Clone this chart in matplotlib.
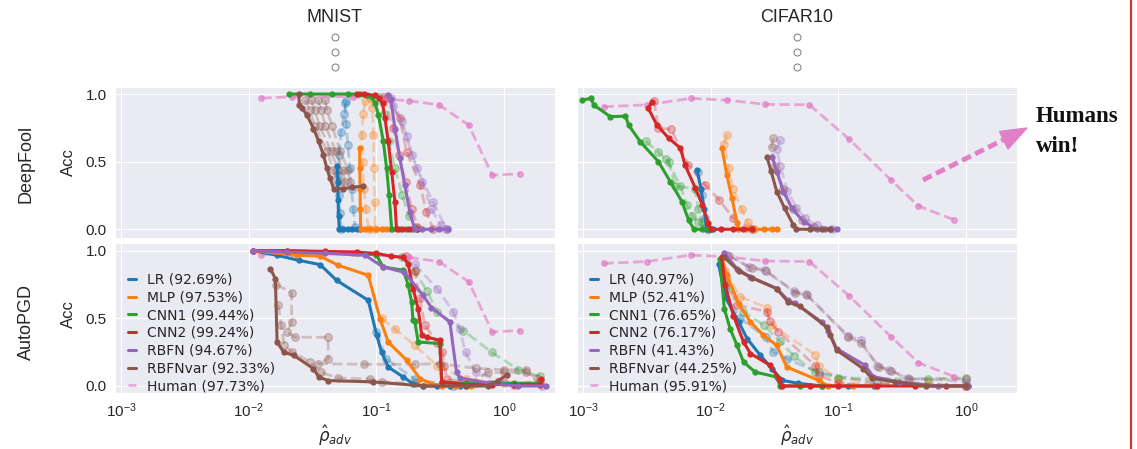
import matplotlib
matplotlib.use("Agg")
import matplotlib.pyplot as plt
import seaborn as sns
from matplotlib.lines import Line2D
from matplotlib.patches import Polygon

sns.set_style("darkgrid")
plt.rcParams["font.family"] = ["Liberation Sans", "DejaVu Sans"]

models = ["LR", "MLP", "CNN1", "CNN2", "RBFN", "RBFNvar"]
colors = ["C0", "C1", "C2", "C3", "C4", "C5"]
human_color = "C6"
mnist_clean = [92.69, 97.53, 99.44, 99.24, 94.67, 92.33, 97.73]
cifar_clean = [40.97, 52.41, 76.65, 76.17, 41.43, 44.25, 95.91]

# human curves (same in both attack rows)
human_mnist_x = [0.0126, 0.022, 0.066, 0.18, 0.31, 0.53, 0.81, 1.34]
human_mnist_y = [0.97, 0.98, 0.98, 0.95, 0.92, 0.77, 0.40, 0.41]
human_cifar_x = [0.00145, 0.00317, 0.0070, 0.0134, 0.0267, 0.0594, 0.122, 0.259, 0.424, 0.81]
human_cifar_y = [0.906, 0.92, 0.968, 0.955, 0.924, 0.92, 0.665, 0.364, 0.172, 0.069]

# main run per model: (rho, acc)
mnist_deepfool = {
    "LR": ([0.0496, 0.0499, 0.0502, 0.0506, 0.0514, 0.055, 0.060, 0.065, 0.070, 0.075],
           [0.47, 0.35, 0.22, 0.10, 0.0, 0.0, 0.0, 0.0, 0.0, 0.0]),
    "MLP": ([0.0740, 0.0743, 0.0747, 0.0750, 0.0755, 0.082, 0.090, 0.100, 0.110, 0.120, 0.128],
            [0.60, 0.45, 0.30, 0.15, 0.0, 0.0, 0.0, 0.0, 0.0, 0.0, 0.0]),
    "CNN1": ([0.0208, 0.030, 0.045, 0.060, 0.075, 0.084, 0.092, 0.098, 0.104, 0.1135, 0.1205, 0.126, 0.132, 0.15, 0.17, 0.19, 0.207],
             [1.0, 1.0, 1.0, 1.0, 1.0, 0.99, 0.98, 0.93, 0.845, 0.65, 0.45, 0.25, 0.0, 0.0, 0.0, 0.0, 0.0]),
    "CNN2": ([0.0703, 0.080, 0.0975, 0.105, 0.112, 0.117, 0.124, 0.132, 0.140, 0.144, 0.16, 0.18, 0.207],
             [1.0, 1.0, 0.99, 0.97, 0.93, 0.82, 0.65, 0.425, 0.20, 0.0, 0.0, 0.0, 0.0]),
    "RBFN": ([0.124, 0.130, 0.140, 0.153, 0.167, 0.183, 0.200, 0.23, 0.27, 0.31, 0.365],
             [0.99, 0.96, 0.745, 0.525, 0.33, 0.13, 0.0, 0.0, 0.0, 0.0, 0.0]),
    "RBFNvar": ([0.0246, 0.025, 0.026, 0.0286, 0.0322, 0.0354, 0.0385, 0.041, 0.0434, 0.0463, 0.055, 0.065, 0.079],
                [1.0, 0.92, 0.90, 0.845, 0.745, 0.65, 0.55, 0.45, 0.377, 0.30, 0.30, 0.31, 0.32]),
}
cifar_deepfool = {
    "LR": ([0.00782, 0.0084, 0.0089, 0.0093, 0.0098, 0.0105],
           [0.438, 0.30, 0.15, 0.0, 0.0, 0.0]),
    "MLP": ([0.01226, 0.0134, 0.0147, 0.0161, 0.0165, 0.019, 0.022, 0.026, 0.030, 0.033],
            [0.60, 0.40, 0.23, 0.044, 0.0, 0.0, 0.0, 0.0, 0.0, 0.0]),
    "CNN1": ([0.000984, 0.00115, 0.00122, 0.00164, 0.00215, 0.00228, 0.00281, 0.0039, 0.00483, 0.00596, 0.00671, 0.0074, 0.0085, 0.0099],
             [0.955, 0.968, 0.918, 0.832, 0.837, 0.77, 0.647, 0.50, 0.352, 0.204, 0.069, 0.0, 0.0, 0.0]),
    "CNN2": ([0.00347, 0.00325, 0.0038, 0.0047, 0.0058, 0.0063, 0.0076, 0.0086, 0.0096, 0.0100, 0.012, 0.015, 0.018, 0.021],
             [0.943, 0.894, 0.77, 0.673, 0.60, 0.475, 0.303, 0.18, 0.044, 0.0, 0.0, 0.0, 0.0, 0.0]),
    "RBFN": ([0.0302, 0.0330, 0.0372, 0.0433, 0.0535, 0.068, 0.078, 0.088, 0.097],
             [0.537, 0.426, 0.278, 0.155, 0.056, 0.0, 0.0, 0.0, 0.0]),
    "RBFNvar": ([0.0276, 0.0297, 0.033, 0.038, 0.0445, 0.047, 0.060, 0.075, 0.0863],
                [0.537, 0.43, 0.278, 0.155, 0.03, 0.0, 0.0, 0.0, 0.0]),
}
mnist_autopgd = {
    "LR": ([0.0109, 0.0167, 0.0246, 0.0363, 0.049, 0.0866, 0.1007, 0.110, 0.124, 0.163, 0.194, 0.233, 0.30, 0.38, 0.45],
           [1.0, 0.966, 0.929, 0.897, 0.78, 0.633, 0.375, 0.251, 0.14, 0.066, 0.017, 0.0, 0.0, 0.0, 0.0]),
    "MLP": ([0.0109, 0.0238, 0.0363, 0.0505, 0.0866, 0.107, 0.124, 0.173, 0.22, 0.27, 0.33, 0.42, 0.55],
            [1.0, 0.966, 0.96, 0.892, 0.818, 0.497, 0.325, 0.19, 0.054, 0.017, 0.0, 0.0, 0.0]),
    "CNN1": ([0.0109, 0.02, 0.04, 0.07, 0.1, 0.113, 0.163, 0.178, 0.189, 0.194, 0.20, 0.213, 0.315, 0.325, 0.5, 0.8, 1.2, 1.9],
             [1.0, 1.0, 0.99, 0.98, 0.97, 0.88, 0.855, 0.744, 0.62, 0.485, 0.48, 0.325, 0.313, 0.03, 0.02, 0.02, 0.02, 0.02]),
    "CNN2": ([0.0109, 0.02, 0.04, 0.07, 0.1, 0.13, 0.163, 0.178, 0.194, 0.213, 0.227, 0.25, 0.315, 0.325, 0.5, 0.8, 1.2, 1.9, 1.95],
             [1.0, 1.0, 0.995, 0.99, 0.98, 0.96, 0.95, 0.90, 0.72, 0.57, 0.375, 0.36, 0.338, 0.03, 0.01, 0.01, 0.01, 0.01, 0.05]),
    "RBFN": ([0.0109, 0.02, 0.04, 0.082, 0.113, 0.166, 0.233, 0.27, 0.377, 0.425, 0.45, 0.77, 1.3, 2.14],
             [1.0, 0.99, 0.98, 0.966, 0.88, 0.84, 0.67, 0.58, 0.473, 0.103, 0.06, 0.02, 0.0, 0.0]),
    "RBFNvar": ([0.0148, 0.0162, 0.0167, 0.0188, 0.0225, 0.0322, 0.0354, 0.042, 0.095, 0.233, 0.50, 0.75, 0.9, 1.05],
                [0.867, 0.793, 0.325, 0.25, 0.227, 0.128, 0.066, 0.04, 0.03, 0.0, 0.0, 0.0, 0.04, 0.08]),
}
cifar_autopgd = {
    "LR": ([0.01153, 0.0130, 0.0166, 0.0193, 0.0245, 0.0302, 0.0363, 0.048, 0.075, 0.12, 0.19],
           [0.904, 0.658, 0.473, 0.35, 0.227, 0.128, 0.042, 0.02, 0.0, 0.0, 0.0]),
    "MLP": ([0.0122, 0.0134, 0.0166, 0.0205, 0.0259, 0.0329, 0.0395, 0.070, 0.083, 0.13, 0.2],
            [0.953, 0.818, 0.608, 0.473, 0.375, 0.30, 0.14, 0.042, 0.0, 0.0, 0.0]),
    "CNN1": ([0.0118, 0.0128, 0.0142, 0.0161, 0.0181, 0.0223, 0.0329, 0.035, 0.05, 0.075],
             [0.94, 0.57, 0.424, 0.30, 0.177, 0.103, 0.066, 0.0, 0.0, 0.0]),
    "CNN2": ([0.0122, 0.0130, 0.0151, 0.0181, 0.0205, 0.0292, 0.0341, 0.036, 0.06, 0.1, 0.2, 0.4, 0.7, 1.03],
             [0.953, 0.744, 0.52, 0.325, 0.24, 0.153, 0.054, 0.0, 0.0, 0.0, 0.0, 0.0, 0.0, 0.0]),
    "RBFN": ([0.0128, 0.0161, 0.0205, 0.0329, 0.0405, 0.046, 0.0741, 0.0838, 0.097, 0.162, 0.188, 0.3, 0.6, 1.03],
             [0.98, 0.867, 0.806, 0.72, 0.633, 0.61, 0.473, 0.41, 0.276, 0.153, 0.069, 0.03, 0.0, 0.0]),
    "RBFNvar": ([0.0128, 0.0166, 0.0210, 0.0329, 0.0405, 0.05, 0.081, 0.086, 0.097, 0.157, 0.183, 0.28, 0.49, 1.0],
                [0.95, 0.85, 0.80, 0.72, 0.62, 0.59, 0.436, 0.38, 0.265, 0.128, 0.057, 0.03, 0.0, 0.0]),
}

# other runs, drawn faded and dashed
mnist_deepfool_runs = {
    "LR": [([0.058, 0.056, 0.053, 0.051, 0.050, 0.051, 0.052, 0.053], [0.95, 0.85, 0.72, 0.55, 0.40, 0.25, 0.12, 0.0]),
           ([0.057, 0.058, 0.060, 0.062, 0.064, 0.066, 0.068], [0.93, 0.78, 0.62, 0.45, 0.30, 0.15, 0.02])],
    "MLP": [([0.082, 0.079, 0.077, 0.078, 0.080, 0.083, 0.087], [0.95, 0.85, 0.70, 0.50, 0.30, 0.15, 0.0]),
            ([0.090, 0.093, 0.095, 0.096, 0.097, 0.098], [0.97, 0.90, 0.70, 0.45, 0.20, 0.0])],
    "CNN1": [([0.105, 0.115, 0.125, 0.14, 0.16, 0.18, 0.21], [0.98, 0.85, 0.65, 0.45, 0.25, 0.10, 0.01])],
    "CNN2": [([0.121, 0.153, 0.173, 0.22, 0.247, 0.279], [0.97, 0.82, 0.57, 0.33, 0.13, 0.0]),
             ([0.115, 0.135, 0.15, 0.17, 0.19, 0.21], [0.98, 0.75, 0.55, 0.35, 0.15, 0.02])],
    "RBFN": [([0.136, 0.173, 0.207, 0.279, 0.355], [0.91, 0.69, 0.45, 0.20, 0.0]),
             ([0.13, 0.16, 0.19, 0.23, 0.27, 0.32, 0.35], [0.97, 0.80, 0.55, 0.35, 0.15, 0.03, 0.0])],
    "RBFNvar": [([0.0278, 0.030, 0.033, 0.041, 0.046, 0.049], [0.955, 0.88, 0.765, 0.58, 0.44, 0.35]),
                ([0.031, 0.033, 0.036, 0.044, 0.050, 0.053], [0.955, 0.88, 0.765, 0.58, 0.44, 0.35]),
                ([0.035, 0.037, 0.040, 0.048, 0.055, 0.057], [0.955, 0.88, 0.765, 0.58, 0.44, 0.35]),
                ([0.0398, 0.041, 0.045, 0.052, 0.060, 0.062], [0.955, 0.88, 0.765, 0.58, 0.44, 0.35])],
}
cifar_deepfool_runs = {
    "LR": [([0.0079, 0.0085, 0.009, 0.0095], [0.42, 0.25, 0.08, 0.0])],
    "MLP": [([0.0134, 0.0128, 0.0138, 0.0150, 0.0175, 0.0195, 0.022], [0.70, 0.63, 0.45, 0.30, 0.15, 0.05, 0.0])],
    "CNN1": [([0.0031, 0.0039, 0.0047, 0.0053, 0.0075, 0.0080, 0.0085, 0.0095], [0.65, 0.57, 0.50, 0.32, 0.30, 0.15, 0.05, 0.0]),
             ([0.0045, 0.0058, 0.0065, 0.0072, 0.0080, 0.0090], [0.52, 0.32, 0.18, 0.10, 0.05, 0.01])],
    "CNN2": [([0.0036, 0.0039, 0.0049, 0.0067, 0.0091, 0.0117, 0.0151, 0.021], [0.95, 0.746, 0.74, 0.475, 0.327, 0.215, 0.08, 0.0])],
    "RBFN": [([0.035, 0.033, 0.035, 0.040, 0.047, 0.055, 0.068, 0.090], [0.66, 0.59, 0.47, 0.28, 0.16, 0.08, 0.03, 0.0])],
    "RBFNvar": [([0.031, 0.030, 0.032, 0.037, 0.044, 0.052, 0.065], [0.673, 0.61, 0.47, 0.30, 0.15, 0.07, 0.02])],
}
mnist_autopgd_runs = {
    "LR": [([0.1, 0.12, 0.2, 0.4], [0.40, 0.20, 0.05, 0.0])],
    "MLP": [([0.11, 0.14, 0.2, 0.3, 0.5, 1.0], [0.50, 0.42, 0.30, 0.15, 0.05, 0.02])],
    "CNN1": [([0.16, 0.2, 0.25, 0.3, 0.48, 0.8, 1.3, 1.9], [0.95, 0.85, 0.70, 0.55, 0.41, 0.25, 0.12, 0.07])],
    "CNN2": [([0.17, 0.2, 0.22, 0.24, 0.3, 0.33, 0.34, 0.36, 0.6, 1.2, 1.9], [0.96, 0.85, 0.65, 0.45, 0.32, 0.25, 0.15, 0.05, 0.02, 0.01, 0.04])],
    "RBFN": [([0.2, 0.3, 0.4, 0.45, 0.5, 0.6, 1.0, 2.0], [0.9, 0.72, 0.55, 0.42, 0.25, 0.10, 0.03, 0.0])],
    "RBFNvar": [([0.0165, 0.0217, 0.0217, 0.020, 0.023, 0.042, 0.042, 0.035, 0.08, 0.2, 0.315, 0.6, 1.0, 1.5],
                 [0.75, 0.69, 0.47, 0.40, 0.36, 0.36, 0.20, 0.165, 0.16, 0.16, 0.165, 0.13, 0.12, 0.12]),
                ([0.017, 0.018, 0.019, 0.022, 0.030, 0.037, 0.05, 0.09, 0.11, 0.2, 0.5, 0.75, 1.0, 1.5, 1.8],
                 [0.6, 0.45, 0.3, 0.25, 0.18, 0.10, 0.06, 0.05, 0.03, 0.02, 0.01, 0.10, 0.10, 0.10, 0.06])],
}
cifar_autopgd_runs = {
    "LR": [([0.013, 0.017, 0.027, 0.031, 0.04, 0.07, 0.2, 1.0], [0.7, 0.5, 0.36, 0.25, 0.2, 0.1, 0.02, 0.0])],
    "MLP": [([0.013, 0.017, 0.0275, 0.03, 0.066, 0.07, 0.1, 0.5, 1.0], [0.85, 0.66, 0.58, 0.45, 0.23, 0.15, 0.05, 0.02, 0.0])],
    "CNN1": [([0.0135, 0.018, 0.026, 0.035, 0.045, 0.066, 0.1, 0.5, 1.0], [0.75, 0.55, 0.45, 0.33, 0.22, 0.10, 0.06, 0.05, 0.05])],
    "CNN2": [([0.013, 0.016, 0.0275, 0.029, 0.034, 0.066, 0.07, 0.1, 1.0], [0.8, 0.6, 0.55, 0.48, 0.40, 0.15, 0.08, 0.02, 0.0])],
    "RBFN": [([0.0135, 0.02, 0.0265, 0.045, 0.056, 0.12, 0.15, 0.2, 0.25, 0.35, 1.0],
              [0.97, 0.88, 0.86, 0.70, 0.68, 0.37, 0.34, 0.15, 0.12, 0.06, 0.03])],
    "RBFNvar": [([0.014, 0.021, 0.027, 0.046, 0.057, 0.12, 0.15, 0.21, 0.26, 0.36, 1.0],
                 [0.96, 0.87, 0.85, 0.69, 0.67, 0.36, 0.32, 0.14, 0.11, 0.05, 0.06])],
}

W, H = 1137, 449
fig = plt.figure(figsize=(W / 100, H / 100), dpi=100)


def rect(left, top, right, bottom):
    return [left / W, 1 - bottom / H, (right - left) / W, (bottom - top) / H]


def fig_xy(px, py):
    return px / W, 1 - py / H


ax_tl = fig.add_axes(rect(115, 87, 555, 237.5))
ax_tr = fig.add_axes(rect(577, 87, 1017, 237.5))
ax_bl = fig.add_axes(rect(115, 243, 555, 393))
ax_br = fig.add_axes(rect(577, 243, 1017, 393))

panels = [
    (ax_tl, mnist_deepfool, mnist_deepfool_runs, human_mnist_x, human_mnist_y, (-0.061, 1.052)),
    (ax_tr, cifar_deepfool, cifar_deepfool_runs, human_cifar_x, human_cifar_y, (-0.061, 1.052)),
    (ax_bl, mnist_autopgd, mnist_autopgd_runs, human_mnist_x, human_mnist_y, (-0.052, 1.057)),
    (ax_br, cifar_autopgd, cifar_autopgd_runs, human_cifar_x, human_cifar_y, (-0.052, 1.057)),
]

for ax, main, runs, hx, hy, ylim in panels:
    for m, c in zip(models, colors):
        for rx, ry in runs[m]:
            ax.plot(rx, ry, "--", color=c, alpha=0.3, lw=2, marker="o", ms=5.5, zorder=2)
    for m, c in zip(models, colors):
        x, y = main[m]
        ax.plot(x, y, "-", color=c, lw=2.2, marker="o", ms=3.5, zorder=3)
    ax.plot(hx, hy, "--", color=human_color, alpha=0.6, lw=2, marker="o", ms=4, zorder=2)
    ax.set_xscale("log")
    ax.set_xlim(10 ** -3.047, 10 ** 0.40)
    ax.set_ylim(*ylim)
    ax.set_yticks([0.0, 0.5, 1.0])
    ax.set_xticks([1e-3, 1e-2, 1e-1, 1e0])
    ax.xaxis.set_minor_locator(matplotlib.ticker.NullLocator())
    ax.tick_params(labelsize=11, length=0, pad=6)

for ax in (ax_tr, ax_br):
    ax.tick_params(labelleft=False)
for ax in (ax_tl, ax_tr):
    ax.tick_params(labelbottom=False)

# legends
for ax, accs in ((ax_bl, mnist_clean), (ax_br, cifar_clean)):
    handles = [Line2D([], [], color=c, lw=2.2) for c in colors]
    handles.append(Line2D([], [], color=human_color, lw=2, ls="--", alpha=0.6))
    labels = [f"{m} ({a:.2f}%)" for m, a in zip(models + ["Human"], accs)]
    ax.legend(handles, labels, loc="lower left", bbox_to_anchor=(0, -0.085), frameon=False,
              handlelength=0.6, handletextpad=0.8, labelspacing=0.27,
              prop={"family": "DejaVu Sans", "size": 10})

# column titles
for cx, name in ((335, "MNIST"), (797, "CIFAR10")):
    fig.text(*fig_xy(cx, 17), name, ha="center", va="center", fontsize=13, color=".15")
    for cy in (37, 52, 67):
        fig.add_artist(Line2D(*zip(fig_xy(cx, cy)), marker="o", ms=5, mfc="none",
                              mec="#888888", mew=0.8, transform=fig.transFigure))
    fig.text(*fig_xy(cx, 436), r"$\hat{\rho}_{adv}$", ha="center", va="center",
             fontsize=12, color=".15")

# row labels
for cy, name in ((164, "DeepFool"), (322, "AutoPGD")):
    fig.text(*fig_xy(26, cy), name, rotation=90, ha="center", va="center",
             fontsize=13, color=".15")
for cy in (162, 314):
    fig.text(*fig_xy(68, cy), "Acc", rotation=90, ha="center", va="center",
             fontsize=12, color=".15")

# "Humans win!" arrow: dashed shaft plus a solid head
arrow_color = "#e27fc9"
fig.add_artist(Line2D(*zip(fig_xy(923, 180), fig_xy(1003, 140)), color=arrow_color,
                      lw=3.5, dashes=(2, 1), transform=fig.transFigure))
fig.add_artist(Polygon([fig_xy(1027, 128), fig_xy(1008, 149), fig_xy(999.5, 131.5)],
                       closed=True, color=arrow_color, transform=fig.transFigure))
fig.text(*fig_xy(1036, 122), "Humans", fontsize=16.5, fontweight="bold",
         family="Liberation Serif", va="baseline", ha="left", color="#111111")
fig.text(*fig_xy(1036, 152), "win!", fontsize=16.5, fontweight="bold",
         family="Liberation Serif", va="baseline", ha="left", color="#111111")
fig.add_artist(Line2D(*zip(fig_xy(1131, 0), fig_xy(1131, H)), color="#d9342b", lw=1.6,
                      transform=fig.transFigure))

fig.savefig("out.png", dpi=100)
